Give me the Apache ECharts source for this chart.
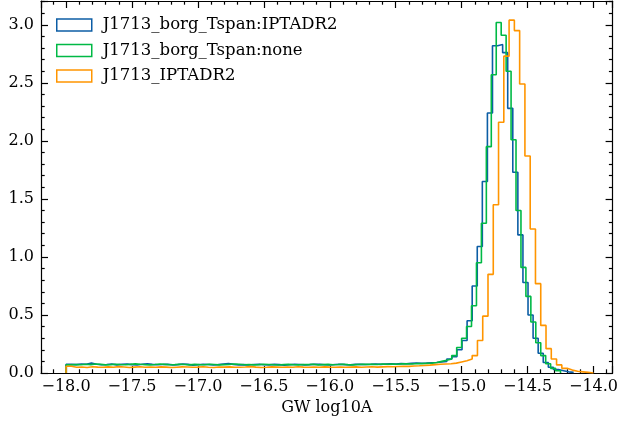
<!DOCTYPE html>
<html>
<head>
<meta charset="utf-8">
<script src="https://cdn.jsdelivr.net/npm/echarts@6/dist/echarts.min.js"></script>
<style>
html,body{margin:0;padding:0;background:#fff;}
#chart{width:621px;height:421px;}
</style>
</head>
<body>
<div id="chart"></div>
<script>
// ---- data (densities) ----
const seriesNames = ['J1713_borg_Tspan:IPTADR2', 'J1713_borg_Tspan:none', 'J1713_IPTADR2'];
const binStart = -18.0;
const blueBinWidth = 0.0385;
const greenBinWidth = 0.0375;
const orangeBinWidth = 0.04;

const blueDensity = [
0.074,0.072,0.078,0.076,0.086,0.075,0.071,0.073,0.077,0.070,
0.074,0.078,0.072,0.069,0.075,0.080,0.074,0.071,0.073,0.076,
0.070,0.072,0.077,0.074,0.068,0.071,0.075,0.073,0.070,0.072,
0.078,0.081,0.074,0.070,0.072,0.069,0.073,0.076,0.071,0.070,
0.074,0.072,0.068,0.071,0.075,0.073,0.070,0.072,0.076,0.074,
0.071,0.069,0.073,0.075,0.072,0.070,0.074,0.076,0.073,0.075,
0.078,0.074,0.077,0.080,0.078,0.082,0.080,0.083,0.085,0.084,
0.085,0.088,0.090,0.095,0.100,0.120,0.140,0.200,0.280,0.450,
0.750,1.090,1.650,2.240,2.820,2.830,2.760,2.280,1.730,1.190,
0.780,0.500,0.300,0.170,0.090,0.050,0.030,0.020,0.010,0.005
];

const greenDensity = [
0.070,0.073,0.071,0.075,0.072,0.078,0.074,0.070,0.072,0.076,
0.073,0.071,0.074,0.079,0.075,0.072,0.070,0.073,0.077,0.074,
0.071,0.072,0.075,0.073,0.070,0.074,0.072,0.071,0.076,0.073,
0.070,0.072,0.074,0.078,0.075,0.071,0.073,0.070,0.072,0.075,
0.073,0.071,0.069,0.072,0.074,0.071,0.070,0.073,0.072,0.075,
0.070,0.072,0.074,0.071,0.073,0.076,0.072,0.070,0.073,0.075,
0.074,0.076,0.073,0.077,0.075,0.078,0.076,0.079,0.080,0.078,
0.082,0.081,0.083,0.085,0.090,0.100,0.110,0.120,0.150,0.220,
0.300,0.400,0.580,0.950,1.290,1.950,2.570,3.020,2.910,2.600,
2.010,1.400,0.910,0.660,0.440,0.260,0.150,0.080,0.040,0.020
];

const orangeDensity = [
0.058,0.050,0.052,0.048,0.054,0.051,0.049,0.053,0.050,0.055,
0.052,0.048,0.051,0.054,0.050,0.052,0.049,0.053,0.051,0.047,
0.050,0.053,0.052,0.049,0.051,0.054,0.050,0.048,0.052,0.051,
0.053,0.049,0.050,0.052,0.055,0.051,0.048,0.050,0.053,0.051,
0.049,0.052,0.050,0.054,0.051,0.049,0.052,0.050,0.053,0.051,
0.050,0.052,0.049,0.051,0.053,0.050,0.052,0.054,0.051,0.053,
0.055,0.054,0.056,0.058,0.057,0.060,0.062,0.065,0.068,0.072,
0.075,0.078,0.080,0.085,0.095,0.105,0.120,0.150,0.280,0.490,
0.850,1.450,2.160,2.730,3.040,2.950,2.490,1.870,1.240,0.770,
0.410,0.210,0.120,0.070,0.040,0.025,0.015,0.010,0.005,0.000
];

const colors = ['#0C5DA5', '#00B945', '#FF9500'];
const xMin = -18.19, xMax = -13.855;
const yMin = 0, yMax = 3.205;
const xLabel = 'GW log10A';

// ---- build step outlines (matplotlib histtype='step') ----
function stepData(start, width, vals) {
  const pts = [[start, 0]];
  for (let i = 0; i < vals.length; i++) pts.push([start + i * width, vals[i]]);
  pts.push([start + vals.length * width, 0]);
  return pts;
}

const FONT = 'DejaVu Serif';
const fmt = v => (v < 0 ? '\u2212' : '') + Math.abs(v).toFixed(1);
const tickStyle = {show: true, inside: true, length: 7, lineStyle: {color: '#000', width: 1.2}};
const minorStyle = {show: true, splitNumber: 5, length: 3.7, lineStyle: {color: '#000', width: 1.2}};
const lineAx = {show: true, onZero: false, lineStyle: {color: '#000', width: 1.2}};

const chart = echarts.init(document.getElementById('chart'), null, {renderer: 'canvas'});
const mkSeries = (i, data) => ({
  name: seriesNames[i], type: 'line', step: 'end', data: data,
  showSymbol: false, symbol: 'none', lineStyle: {color: colors[i], width: 1.6},
  itemStyle: {color: colors[i]}, animation: false, clip: true
});

chart.setOption({
  animation: false,
  backgroundColor: '#fff',
  textStyle: {fontFamily: FONT},
  grid: {left: 41, right: 8, top: 1, bottom: 47, containLabel: false},
  legend: {
    orient: 'vertical', left: 51, top: 11, itemWidth: 35, itemHeight: 12, itemGap: 7.5,
    textStyle: {fontFamily: FONT, fontSize: 16.5, color: '#000', lineHeight: 18, padding: [0, 0, 0, 6]},
    data: seriesNames.map((n, i) => ({
      name: n, icon: 'rect',
      itemStyle: {color: 'rgba(0,0,0,0)', borderColor: colors[i], borderWidth: 1.5}
    }))
  },
  xAxis: [
    {type: 'value', min: xMin, max: xMax, minInterval: 0.5, maxInterval: 0.5, splitNumber: 9,
     axisLine: lineAx, axisTick: tickStyle, minorTick: minorStyle, splitLine: {show: false},
     axisLabel: {formatter: fmt, fontFamily: FONT, fontSize: 16, color: '#000', margin: 6,
                 showMinLabel: false, showMaxLabel: false},
     name: xLabel, nameLocation: 'middle', nameGap: 27,
     nameTextStyle: {fontFamily: FONT, fontSize: 16, color: '#000'}},
    {type: 'value', position: 'top', min: xMin, max: xMax, minInterval: 0.5, maxInterval: 0.5, splitNumber: 9,
     axisLine: lineAx, axisTick: tickStyle, minorTick: minorStyle, splitLine: {show: false},
     axisLabel: {show: false}}
  ],
  yAxis: [
    {type: 'value', min: yMin, max: yMax, minInterval: 0.5, maxInterval: 0.5, splitNumber: 7,
     axisLine: lineAx, axisTick: tickStyle, minorTick: minorStyle, splitLine: {show: false},
     axisLabel: {formatter: fmt, fontFamily: FONT, fontSize: 16, color: '#000', margin: 7,
                 showMinLabel: true, showMaxLabel: false}},
    {type: 'value', position: 'right', min: yMin, max: yMax, minInterval: 0.5, maxInterval: 0.5, splitNumber: 7,
     axisLine: lineAx, axisTick: tickStyle, minorTick: minorStyle, splitLine: {show: false},
     axisLabel: {show: false}}
  ],
  series: [
    mkSeries(0, stepData(binStart, blueBinWidth, blueDensity)),
    mkSeries(1, stepData(binStart, greenBinWidth, greenDensity)),
    mkSeries(2, stepData(binStart, orangeBinWidth, orangeDensity))
  ]
});
</script>
</body>
</html>
